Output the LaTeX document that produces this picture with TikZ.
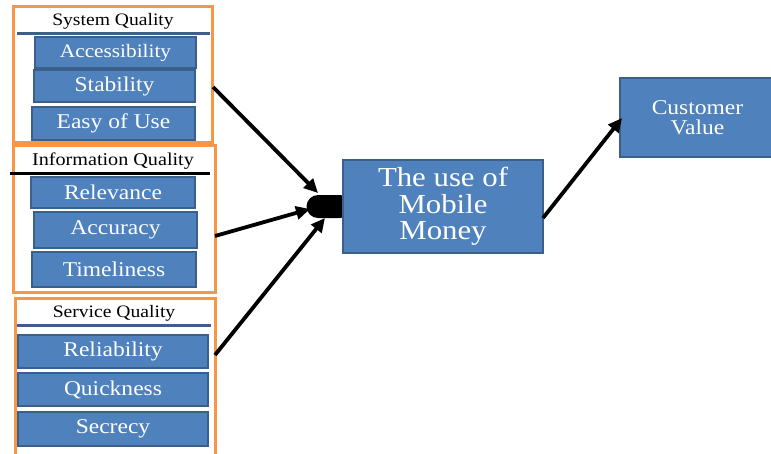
\documentclass[tikz,border=0pt]{standalone}
\usepackage{fontspec}
\setmainfont{Liberation Serif}[FakeStretch=1.12]
\usetikzlibrary{arrows.meta}
\definecolor{boxblue}{HTML}{4F81BD}
\definecolor{boxedge}{HTML}{3A5F8B}
\definecolor{orng}{HTML}{F79646}
\definecolor{hline}{HTML}{3F5F8A}
\begin{document}
\begin{tikzpicture}[x=1pt,y=-1pt,
 grp/.style={draw=orng,line width=3pt,fill=white,inner sep=0pt},
 bbox/.style={draw=boxedge,line width=2pt,fill=boxblue,text=white,inner sep=0pt,font=\fontsize{21}{22}\selectfont},
 hdr/.style={font=\fontsize{17.5}{19}\selectfont,inner sep=0pt},
 arr/.style={line width=3.8pt,-{Triangle[length=14pt,width=13pt]}},
 junc/.style={fill=black,rounded corners=11.5pt,minimum width=45pt,minimum height=23pt,inner sep=0pt},
]
\useasboundingbox (0,0) rectangle (771,453);
% groups
\node[grp,minimum width=199pt,minimum height=136pt] (sys) at (112.5,74) {};
\node[grp,minimum width=202pt,minimum height=147pt] (info) at (114,218.5) {};
\node[grp,minimum width=200pt,minimum height=162pt] (serv) at (115,379) {};
% headers
\node[hdr] (hsys) at (113,21.5) {System Quality};
\node[hdr,font=\fontsize{18}{19}\selectfont] (hinfo) at (113,161.5) {Information Quality};
\node[hdr] (hserv) at (114,313.5) {Service Quality};
\draw[hline,line width=3pt] (17,33) -- (210,33);
\draw[black,line width=3pt] (10,173) -- (210,173);
\draw[hline,line width=3pt] (17,325) -- (211,325);
% blue boxes
\node[bbox,minimum width=161pt,minimum height=31pt,font=\fontsize{19}{20}\selectfont] (acc) at (115.5,52.5) {Accessibility};
\node[bbox,minimum width=161pt,minimum height=32pt] (stab) at (114.5,86) {Stability};
\node[bbox,minimum width=163pt,minimum height=33pt] (easy) at (113.5,123.5) {Easy of Use};
\node[bbox,minimum width=164pt,minimum height=31pt] (rel) at (113,192.5) {Relevance};
\node[bbox,minimum width=163pt,minimum height=36pt] (accu) at (115.5,230) {Accuracy};
\node[bbox,minimum width=164pt,minimum height=35pt] (time) at (114,269.5) {Timeliness};
\node[bbox,minimum width=190pt,minimum height=33pt] (reli) at (113,351.5) {Reliability};
\node[bbox,minimum width=190pt,minimum height=33pt] (quick) at (113,389.5) {Quickness};
\node[bbox,minimum width=190pt,minimum height=34pt] (secr) at (113,429) {Secrecy};
% junction and main boxes
\node[junc] (j) at (329,206.5) {};
\node[bbox,minimum width=200pt,minimum height=93pt,align=center,font=\fontsize{27.5}{26.5}\selectfont] (main) at (443,206.5) {The use of\\Mobile\\Money};
\node[bbox,minimum width=155pt,minimum height=79pt,align=center,font=\fontsize{21}{20}\selectfont] (cust) at (697.5,117.5) {Customer\\Value};
% arrows
\coordinate (s1) at (213,87);
\coordinate (e1) at (318,193);
\coordinate (s2) at (215,236);
\coordinate (e2) at (310,209);
\coordinate (s3) at (215,355);
\coordinate (e3) at (325,218);
\coordinate (s4) at (543,218);
\coordinate (e4) at (622,118);
\draw[arr] (s1) -- (e1);
\draw[arr] (s2) -- (e2);
\draw[arr] (s3) -- (e3);
\draw[arr] (s4) -- (e4);
\end{tikzpicture}
\end{document}
